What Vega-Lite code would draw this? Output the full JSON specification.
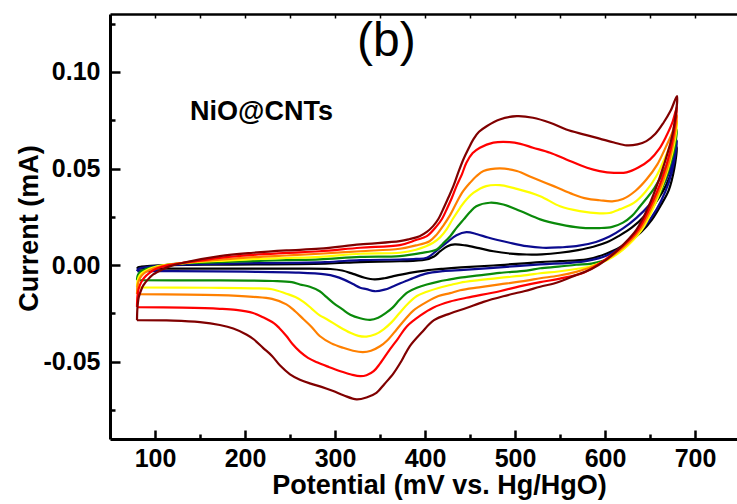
{
"$schema": "https://vega.github.io/schema/vega-lite/v6.json",
"width": 627, "height": 425,
"autosize": "none",
"padding": {"left": 110, "top": 14, "right": 0, "bottom": 65},
"background": "white",
"config": {"view": {"stroke": null}, "axis": {"grid": false, "domainColor": "black", "tickColor": "black", "labelColor": "black", "titleColor": "black", "labelFont": "Liberation Sans", "titleFont": "Liberation Sans", "labelFontWeight": "bold", "titleFontWeight": "bold"}},
"resolve": {"axis": {"x": "independent", "y": "independent"}},
"layer": [
{
"data": {"values": [
{"s":"1","E":80,"I":-0.0018},{"s":"1","E":81,"I":-0.0012},{"s":"1","E":85,"I":-0.0008},{"s":"1","E":95,"I":-0.0004},{"s":"1","E":115,"I":0},{"s":"1","E":180,"I":0.0003},{"s":"1","E":289,"I":0.0008},{"s":"1","E":328,"I":0.0016},{"s":"1","E":372,"I":0.002},{"s":"1","E":400,"I":0.0028},{"s":"1","E":410,"I":0.0045},{"s":"1","E":417,"I":0.0072},{"s":"1","E":425,"I":0.0098},{"s":"1","E":433,"I":0.0107},{"s":"1","E":445,"I":0.0102},{"s":"1","E":460,"I":0.0088},{"s":"1","E":476,"I":0.0072},{"s":"1","E":495,"I":0.006},{"s":"1","E":513,"I":0.0055},{"s":"1","E":530,"I":0.0056},{"s":"1","E":550,"I":0.0064},{"s":"1","E":570,"I":0.0078},{"s":"1","E":587,"I":0.0095},{"s":"1","E":602,"I":0.0118},{"s":"1","E":615,"I":0.015},{"s":"1","E":630,"I":0.0195},{"s":"1","E":645,"I":0.026},{"s":"1","E":658,"I":0.0335},{"s":"1","E":668,"I":0.0415},{"s":"1","E":675,"I":0.05},{"s":"1","E":680,"I":0.061},
{"s":"1","E":677,"I":0.05},{"s":"1","E":671,"I":0.039},{"s":"1","E":662,"I":0.031},{"s":"1","E":652,"I":0.0235},{"s":"1","E":640,"I":0.017},{"s":"1","E":625,"I":0.0115},{"s":"1","E":602,"I":0.006},{"s":"1","E":580,"I":0.003},{"s":"1","E":550,"I":0.0021},{"s":"1","E":528,"I":0.0016},{"s":"1","E":476,"I":-0.0002},{"s":"1","E":440,"I":-0.0012},{"s":"1","E":420,"I":-0.0019},{"s":"1","E":400,"I":-0.0028},{"s":"1","E":383,"I":-0.004},{"s":"1","E":365,"I":-0.0057},{"s":"1","E":355,"I":-0.0068},{"s":"1","E":344,"I":-0.0074},{"s":"1","E":333,"I":-0.0065},{"s":"1","E":320,"I":-0.0045},{"s":"1","E":308,"I":-0.0028},{"s":"1","E":295,"I":-0.002},{"s":"1","E":250,"I":-0.0018},{"s":"1","E":150,"I":-0.0018},{"s":"1","E":80,"I":-0.0018},

{"s":"2","E":80,"I":-0.0031},{"s":"2","E":81,"I":-0.0022},{"s":"2","E":84,"I":-0.0015},{"s":"2","E":90,"I":-0.001},{"s":"2","E":100,"I":-0.0005},{"s":"2","E":115,"I":0},{"s":"2","E":140,"I":0.0004},{"s":"2","E":180,"I":0.0008},{"s":"2","E":289,"I":0.0016},{"s":"2","E":328,"I":0.0026},{"s":"2","E":372,"I":0.0029},{"s":"2","E":390,"I":0.0032},{"s":"2","E":402,"I":0.0038},{"s":"2","E":413,"I":0.0075},{"s":"2","E":424,"I":0.0116},{"s":"2","E":435,"I":0.0155},{"s":"2","E":446,"I":0.0171},{"s":"2","E":458,"I":0.016},{"s":"2","E":470,"I":0.0143},{"s":"2","E":494,"I":0.0116},{"s":"2","E":513,"I":0.0098},{"s":"2","E":531,"I":0.009},{"s":"2","E":550,"I":0.0092},{"s":"2","E":568,"I":0.0098},{"s":"2","E":590,"I":0.012},{"s":"2","E":605,"I":0.0148},{"s":"2","E":620,"I":0.019},{"s":"2","E":635,"I":0.0245},{"s":"2","E":650,"I":0.0315},{"s":"2","E":660,"I":0.038},{"s":"2","E":668,"I":0.0443},{"s":"2","E":675,"I":0.053},{"s":"2","E":680,"I":0.0645},
{"s":"2","E":677,"I":0.054},{"s":"2","E":671,"I":0.043},{"s":"2","E":662,"I":0.033},{"s":"2","E":652,"I":0.025},{"s":"2","E":640,"I":0.018},{"s":"2","E":625,"I":0.0115},{"s":"2","E":602,"I":0.005},{"s":"2","E":580,"I":0.0022},{"s":"2","E":560,"I":0.0012},{"s":"2","E":528,"I":0.0004},{"s":"2","E":476,"I":-0.0014},{"s":"2","E":443,"I":-0.0025},{"s":"2","E":420,"I":-0.0031},{"s":"2","E":400,"I":-0.0045},{"s":"2","E":383,"I":-0.0074},{"s":"2","E":365,"I":-0.0109},{"s":"2","E":355,"I":-0.0127},{"s":"2","E":344,"I":-0.0135},{"s":"2","E":335,"I":-0.0124},{"s":"2","E":328,"I":-0.0117},{"s":"2","E":320,"I":-0.0098},{"s":"2","E":310,"I":-0.0075},{"s":"2","E":300,"I":-0.0058},{"s":"2","E":289,"I":-0.0048},{"s":"2","E":260,"I":-0.0039},{"s":"2","E":200,"I":-0.0034},{"s":"2","E":120,"I":-0.0031},{"s":"2","E":80,"I":-0.0031},

{"s":"3","E":80,"I":-0.0078},{"s":"3","E":80.5,"I":-0.0058},{"s":"3","E":82,"I":-0.0043},{"s":"3","E":85,"I":-0.003},{"s":"3","E":89,"I":-0.0022},{"s":"3","E":95,"I":-0.0013},{"s":"3","E":104,"I":-0.0005},{"s":"3","E":122,"I":0.0007},{"s":"3","E":135,"I":0.001},{"s":"3","E":172,"I":0.0015},{"s":"3","E":209,"I":0.0021},{"s":"3","E":246,"I":0.0026},{"s":"3","E":283,"I":0.003},{"s":"3","E":328,"I":0.0043},{"s":"3","E":372,"I":0.0047},{"s":"3","E":395,"I":0.0062},{"s":"3","E":413,"I":0.0081},{"s":"3","E":420,"I":0.0112},{"s":"3","E":428,"I":0.015},{"s":"3","E":435,"I":0.0193},{"s":"3","E":443,"I":0.0237},{"s":"3","E":450,"I":0.0275},{"s":"3","E":457,"I":0.0305},{"s":"3","E":472,"I":0.0323},{"s":"3","E":487,"I":0.0314},{"s":"3","E":506,"I":0.028},{"s":"3","E":528,"I":0.0237},{"s":"3","E":550,"I":0.0211},{"s":"3","E":572,"I":0.0194},{"s":"3","E":594,"I":0.0192},{"s":"3","E":608,"I":0.0198},{"s":"3","E":620,"I":0.022},{"s":"3","E":630,"I":0.0255},{"s":"3","E":639,"I":0.0305},{"s":"3","E":655,"I":0.04},{"s":"3","E":668,"I":0.0512},{"s":"3","E":675,"I":0.06},{"s":"3","E":680,"I":0.07},
{"s":"3","E":677,"I":0.06},{"s":"3","E":671,"I":0.05},{"s":"3","E":667,"I":0.0443},{"s":"3","E":660,"I":0.036},{"s":"3","E":650,"I":0.027},{"s":"3","E":640,"I":0.0195},{"s":"3","E":625,"I":0.0105},{"s":"3","E":602,"I":0.003},{"s":"3","E":585,"I":0.0008},{"s":"3","E":568,"I":0.0002},{"s":"3","E":548,"I":-0.0008},{"s":"3","E":528,"I":-0.0016},{"s":"3","E":513,"I":-0.0028},{"s":"3","E":483,"I":-0.004},{"s":"3","E":460,"I":-0.0053},{"s":"3","E":439,"I":-0.0065},{"s":"3","E":428,"I":-0.0074},{"s":"3","E":415,"I":-0.0085},{"s":"3","E":402,"I":-0.01},{"s":"3","E":391,"I":-0.0117},{"s":"3","E":381,"I":-0.014},{"s":"3","E":372,"I":-0.0178},{"s":"3","E":364,"I":-0.022},{"s":"3","E":357,"I":-0.0246},{"s":"3","E":348,"I":-0.0272},{"s":"3","E":339,"I":-0.0283},{"s":"3","E":328,"I":-0.0275},{"s":"3","E":317,"I":-0.0257},{"s":"3","E":308,"I":-0.0228},{"s":"3","E":298,"I":-0.0195},{"s":"3","E":290,"I":-0.0163},{"s":"3","E":283,"I":-0.0135},{"s":"3","E":272,"I":-0.0112},{"s":"3","E":261,"I":-0.01},{"s":"3","E":252,"I":-0.0088},{"s":"3","E":231,"I":-0.0082},{"s":"3","E":150,"I":-0.0079},{"s":"3","E":80,"I":-0.0078},

{"s":"4","E":80,"I":-0.0115},{"s":"4","E":80.5,"I":-0.0085},{"s":"4","E":82,"I":-0.006},{"s":"4","E":85,"I":-0.0042},{"s":"4","E":90,"I":-0.0027},{"s":"4","E":98,"I":-0.0012},{"s":"4","E":110,"I":0},{"s":"4","E":135,"I":0.0011},{"s":"4","E":172,"I":0.0022},{"s":"4","E":209,"I":0.0031},{"s":"4","E":246,"I":0.0037},{"s":"4","E":283,"I":0.0043},{"s":"4","E":328,"I":0.0059},{"s":"4","E":372,"I":0.0064},{"s":"4","E":390,"I":0.008},{"s":"4","E":409,"I":0.0116},{"s":"4","E":417,"I":0.0145},{"s":"4","E":424,"I":0.0185},{"s":"4","E":431,"I":0.024},{"s":"4","E":439,"I":0.0297},{"s":"4","E":446,"I":0.034},{"s":"4","E":454,"I":0.0375},{"s":"4","E":468,"I":0.0409},{"s":"4","E":483,"I":0.0414},{"s":"4","E":502,"I":0.0395},{"s":"4","E":528,"I":0.0357},{"s":"4","E":550,"I":0.0305},{"s":"4","E":572,"I":0.028},{"s":"4","E":594,"I":0.0268},{"s":"4","E":605,"I":0.027},{"s":"4","E":617,"I":0.029},{"s":"4","E":632,"I":0.0322},{"s":"4","E":645,"I":0.038},{"s":"4","E":657,"I":0.046},{"s":"4","E":668,"I":0.057},{"s":"4","E":675,"I":0.065},{"s":"4","E":680,"I":0.0745},
{"s":"4","E":677,"I":0.063},{"s":"4","E":672,"I":0.053},{"s":"4","E":666,"I":0.0443},{"s":"4","E":654,"I":0.03},{"s":"4","E":641,"I":0.0184},{"s":"4","E":620,"I":0.008},{"s":"4","E":602,"I":0.0025},{"s":"4","E":585,"I":-0.0005},{"s":"4","E":568,"I":-0.002},{"s":"4","E":548,"I":-0.0033},{"s":"4","E":528,"I":-0.0042},{"s":"4","E":513,"I":-0.0052},{"s":"4","E":483,"I":-0.0066},{"s":"4","E":460,"I":-0.0078},{"s":"4","E":439,"I":-0.0091},{"s":"4","E":428,"I":-0.0103},{"s":"4","E":415,"I":-0.0118},{"s":"4","E":402,"I":-0.0138},{"s":"4","E":391,"I":-0.016},{"s":"4","E":381,"I":-0.02},{"s":"4","E":372,"I":-0.0246},{"s":"4","E":363,"I":-0.0295},{"s":"4","E":354,"I":-0.0332},{"s":"4","E":345,"I":-0.0358},{"s":"4","E":335,"I":-0.037},{"s":"4","E":326,"I":-0.0366},{"s":"4","E":317,"I":-0.035},{"s":"4","E":305,"I":-0.032},{"s":"4","E":291,"I":-0.028},{"s":"4","E":283,"I":-0.026},{"s":"4","E":274,"I":-0.0225},{"s":"4","E":265,"I":-0.019},{"s":"4","E":256,"I":-0.0165},{"s":"4","E":246,"I":-0.0148},{"s":"4","E":230,"I":-0.0125},{"s":"4","E":209,"I":-0.012},{"s":"4","E":160,"I":-0.0117},{"s":"4","E":80,"I":-0.0115},

{"s":"5","E":80,"I":-0.015},{"s":"5","E":80.5,"I":-0.011},{"s":"5","E":82,"I":-0.008},{"s":"5","E":85,"I":-0.0055},{"s":"5","E":90,"I":-0.0035},{"s":"5","E":98,"I":-0.0017},{"s":"5","E":110,"I":-0.0002},{"s":"5","E":135,"I":0.0013},{"s":"5","E":172,"I":0.0028},{"s":"5","E":209,"I":0.0041},{"s":"5","E":246,"I":0.005},{"s":"5","E":283,"I":0.0059},{"s":"5","E":328,"I":0.0072},{"s":"5","E":372,"I":0.0085},{"s":"5","E":390,"I":0.0102},{"s":"5","E":405,"I":0.0124},{"s":"5","E":413,"I":0.0158},{"s":"5","E":420,"I":0.0202},{"s":"5","E":428,"I":0.026},{"s":"5","E":435,"I":0.0323},{"s":"5","E":442,"I":0.038},{"s":"5","E":450,"I":0.0426},{"s":"5","E":457,"I":0.046},{"s":"5","E":465,"I":0.0487},{"s":"5","E":483,"I":0.0501},{"s":"5","E":502,"I":0.0487},{"s":"5","E":520,"I":0.0452},{"s":"5","E":543,"I":0.0409},{"s":"5","E":565,"I":0.0366},{"s":"5","E":580,"I":0.0344},{"s":"5","E":594,"I":0.0336},{"s":"5","E":608,"I":0.033},{"s":"5","E":620,"I":0.0342},{"s":"5","E":634,"I":0.0385},{"s":"5","E":646,"I":0.0443},{"s":"5","E":658,"I":0.052},{"s":"5","E":668,"I":0.0616},{"s":"5","E":675,"I":0.069},{"s":"5","E":680,"I":0.0775},
{"s":"5","E":677,"I":0.066},{"s":"5","E":672,"I":0.055},{"s":"5","E":665,"I":0.0443},{"s":"5","E":652,"I":0.03},{"s":"5","E":639,"I":0.0184},{"s":"5","E":620,"I":0.009},{"s":"5","E":602,"I":0.003},{"s":"5","E":585,"I":-0.001},{"s":"5","E":568,"I":-0.0035},{"s":"5","E":548,"I":-0.0055},{"s":"5","E":528,"I":-0.0068},{"s":"5","E":513,"I":-0.008},{"s":"5","E":483,"I":-0.01},{"s":"5","E":460,"I":-0.0115},{"s":"5","E":439,"I":-0.013},{"s":"5","E":428,"I":-0.0145},{"s":"5","E":415,"I":-0.016},{"s":"5","E":402,"I":-0.019},{"s":"5","E":387,"I":-0.0235},{"s":"5","E":378,"I":-0.028},{"s":"5","E":368.5,"I":-0.0333},{"s":"5","E":358,"I":-0.039},{"s":"5","E":350,"I":-0.042},{"s":"5","E":340,"I":-0.0443},{"s":"5","E":331,"I":-0.045},{"s":"5","E":320,"I":-0.0443},{"s":"5","E":309,"I":-0.0428},{"s":"5","E":296,"I":-0.0405},{"s":"5","E":283,"I":-0.0367},{"s":"5","E":274,"I":-0.032},{"s":"5","E":265,"I":-0.028},{"s":"5","E":256,"I":-0.024},{"s":"5","E":246,"I":-0.0203},{"s":"5","E":230,"I":-0.0175},{"s":"5","E":209,"I":-0.0164},{"s":"5","E":170,"I":-0.0155},{"s":"5","E":80,"I":-0.015},

{"s":"6","E":80,"I":-0.0217},{"s":"6","E":80.5,"I":-0.016},{"s":"6","E":82,"I":-0.012},{"s":"6","E":84.5,"I":-0.009},{"s":"6","E":88,"I":-0.0065},{"s":"6","E":94,"I":-0.004},{"s":"6","E":102,"I":-0.0018},{"s":"6","E":115,"I":0},{"s":"6","E":135,"I":0.0014},{"s":"6","E":172,"I":0.0038},{"s":"6","E":209,"I":0.0053},{"s":"6","E":246,"I":0.0063},{"s":"6","E":283,"I":0.0072},{"s":"6","E":328,"I":0.009},{"s":"6","E":372,"I":0.0104},{"s":"6","E":390,"I":0.013},{"s":"6","E":402,"I":0.015},{"s":"6","E":413,"I":0.0202},{"s":"6","E":419,"I":0.024},{"s":"6","E":424,"I":0.0288},{"s":"6","E":430,"I":0.035},{"s":"6","E":435,"I":0.0409},{"s":"6","E":441,"I":0.047},{"s":"6","E":446,"I":0.053},{"s":"6","E":453,"I":0.058},{"s":"6","E":461,"I":0.0608},{"s":"6","E":476,"I":0.0634},{"s":"6","E":494,"I":0.0637},{"s":"6","E":506,"I":0.0628},{"s":"6","E":520,"I":0.0608},{"s":"6","E":539,"I":0.0582},{"s":"6","E":557,"I":0.0547},{"s":"6","E":580,"I":0.0504},{"s":"6","E":594,"I":0.0487},{"s":"6","E":610,"I":0.0478},{"s":"6","E":624,"I":0.048},{"s":"6","E":637,"I":0.0505},{"s":"6","E":650,"I":0.0546},{"s":"6","E":660,"I":0.06},{"s":"6","E":668,"I":0.0667},{"s":"6","E":675,"I":0.074},{"s":"6","E":680,"I":0.082},
{"s":"6","E":677,"I":0.07},{"s":"6","E":673,"I":0.06},{"s":"6","E":663,"I":0.0443},{"s":"6","E":650,"I":0.03},{"s":"6","E":637,"I":0.0184},{"s":"6","E":620,"I":0.01},{"s":"6","E":602,"I":0.0035},{"s":"6","E":578,"I":-0.0035},{"s":"6","E":550,"I":-0.007},{"s":"6","E":528,"I":-0.0088},{"s":"6","E":505,"I":-0.011},{"s":"6","E":483,"I":-0.0135},{"s":"6","E":446,"I":-0.0169},{"s":"6","E":428,"I":-0.0188},{"s":"6","E":409,"I":-0.022},{"s":"6","E":395,"I":-0.026},{"s":"6","E":380,"I":-0.0316},{"s":"6","E":370,"I":-0.038},{"s":"6","E":361,"I":-0.0436},{"s":"6","E":350,"I":-0.051},{"s":"6","E":343,"I":-0.0549},{"s":"6","E":335,"I":-0.057},{"s":"6","E":328,"I":-0.0575},{"s":"6","E":318,"I":-0.0566},{"s":"6","E":306,"I":-0.0549},{"s":"6","E":293,"I":-0.0527},{"s":"6","E":280,"I":-0.0503},{"s":"6","E":270,"I":-0.048},{"s":"6","E":261,"I":-0.0448},{"s":"6","E":253,"I":-0.041},{"s":"6","E":246,"I":-0.0367},{"s":"6","E":238,"I":-0.0325},{"s":"6","E":232,"I":-0.03},{"s":"6","E":220,"I":-0.027},{"s":"6","E":209,"I":-0.0248},{"s":"6","E":190,"I":-0.0232},{"s":"6","E":172,"I":-0.0226},{"s":"6","E":130,"I":-0.022},{"s":"6","E":80,"I":-0.0217},

{"s":"7","E":80,"I":-0.0285},{"s":"7","E":80.5,"I":-0.022},{"s":"7","E":82,"I":-0.0165},{"s":"7","E":84.5,"I":-0.013},{"s":"7","E":87,"I":-0.0105},{"s":"7","E":92,"I":-0.0075},{"s":"7","E":98,"I":-0.0048},{"s":"7","E":108,"I":-0.0022},{"s":"7","E":117,"I":-0.0005},{"s":"7","E":135,"I":0.0016},{"s":"7","E":172,"I":0.0047},{"s":"7","E":209,"I":0.0064},{"s":"7","E":246,"I":0.0076},{"s":"7","E":283,"I":0.0085},{"s":"7","E":328,"I":0.0107},{"s":"7","E":372,"I":0.0124},{"s":"7","E":383,"I":0.0135},{"s":"7","E":394,"I":0.015},{"s":"7","E":402,"I":0.0172},{"s":"7","E":409,"I":0.0202},{"s":"7","E":415,"I":0.024},{"s":"7","E":420,"I":0.0288},{"s":"7","E":426,"I":0.035},{"s":"7","E":431.5,"I":0.0409},{"s":"7","E":437,"I":0.048},{"s":"7","E":442.6,"I":0.0547},{"s":"7","E":448,"I":0.06},{"s":"7","E":453.7,"I":0.0651},{"s":"7","E":460,"I":0.069},{"s":"7","E":468.5,"I":0.0719},{"s":"7","E":483,"I":0.0754},{"s":"7","E":502,"I":0.0771},{"s":"7","E":520,"I":0.0763},{"s":"7","E":539,"I":0.0737},{"s":"7","E":557,"I":0.0702},{"s":"7","E":576,"I":0.0677},{"s":"7","E":594,"I":0.0655},{"s":"7","E":610,"I":0.0635},{"s":"7","E":624,"I":0.062},{"s":"7","E":636,"I":0.0625},{"s":"7","E":646,"I":0.0642},{"s":"7","E":656,"I":0.068},{"s":"7","E":665,"I":0.0737},{"s":"7","E":673,"I":0.08},{"s":"7","E":680,"I":0.0875},
{"s":"7","E":676,"I":0.07},{"s":"7","E":672,"I":0.062},{"s":"7","E":660,"I":0.0443},{"s":"7","E":648,"I":0.03},{"s":"7","E":635,"I":0.0184},{"s":"7","E":620,"I":0.0105},{"s":"7","E":602,"I":0.003},{"s":"7","E":585,"I":-0.002},{"s":"7","E":565,"I":-0.0057},{"s":"7","E":546,"I":-0.0091},{"s":"7","E":528,"I":-0.0112},{"s":"7","E":510,"I":-0.0135},{"s":"7","E":487,"I":-0.0161},{"s":"7","E":465,"I":-0.019},{"s":"7","E":446,"I":-0.0222},{"s":"7","E":428,"I":-0.025},{"s":"7","E":410,"I":-0.0285},{"s":"7","E":396,"I":-0.035},{"s":"7","E":383,"I":-0.042},{"s":"7","E":374,"I":-0.0495},{"s":"7","E":365,"I":-0.056},{"s":"7","E":355,"I":-0.0615},{"s":"7","E":346,"I":-0.0661},{"s":"7","E":335,"I":-0.0685},{"s":"7","E":324,"I":-0.0695},{"s":"7","E":310,"I":-0.0675},{"s":"7","E":298,"I":-0.0652},{"s":"7","E":285,"I":-0.063},{"s":"7","E":272,"I":-0.0612},{"s":"7","E":261,"I":-0.0593},{"s":"7","E":250,"I":-0.0565},{"s":"7","E":239,"I":-0.052},{"s":"7","E":230,"I":-0.047},{"s":"7","E":220,"I":-0.0428},{"s":"7","E":210,"I":-0.0385},{"s":"7","E":202,"I":-0.036},{"s":"7","E":187,"I":-0.0328},{"s":"7","E":172,"I":-0.031},{"s":"7","E":150,"I":-0.0295},{"s":"7","E":120,"I":-0.0287},{"s":"7","E":80,"I":-0.0285}
]},
"mark": {"type": "line", "strokeWidth": 2.2, "clip": true, "interpolate": "catmull-rom"},
"encoding": {
"x": {"field": "E", "type": "quantitative", "scale": {"domain": [50, 746.667], "nice": false, "zero": false},
  "axis": {"orient": "bottom", "values": [100,150,200,250,300,350,400,450,500,550,600,650,700], "labelExpr": "datum.value % 100 === 0 ? datum.label : ''", "format": "d", "tickSize": {"condition": {"test": "datum.value % 100 === 0", "value": -9}, "value": -5}, "tickWidth": 2.5, "domainWidth": 3, "labelFontSize": 25, "labelBaseline": "alphabetic", "labelPadding": 36, "labelFlush": false, "labelOverlap": false, "title": "Potential (mV vs. Hg/HgO)", "titleFontSize": 27, "titleX": 329, "titleY": 54, "titleBaseline": "alphabetic", "titleAlign": "center"}},
"y": {"field": "I", "type": "quantitative", "scale": {"domain": [-0.09, 0.13], "nice": false, "zero": false},
  "axis": {"orient": "left", "values": [-0.075,-0.05,-0.025,0,0.025,0.05,0.075,0.1,0.125], "labelExpr": "abs(datum.value*20 - round(datum.value*20)) < 0.001 ? replace(format(datum.value, '.2f'), '\u2212', '-') : ''", "tickSize": {"condition": {"test": "abs(datum.value*20 - round(datum.value*20)) < 0.001", "value": -10}, "value": -5}, "tickWidth": 2.5, "domainWidth": 3, "labelFontSize": 25, "labelPadding": 20, "labelFlush": false, "labelOverlap": false, "labelBaseline": "middle", "title": "Current (mA)", "titleFontSize": 27, "titleAngle": -90, "titleX": -73, "titleY": 214, "titleBaseline": "alphabetic", "titleAlign": "center"}},
"color": {"field": "s", "type": "nominal", "scale": {"domain": ["1","2","3","4","5","6","7"], "range": ["#000000","#0b0b8f","#0a8a0a","#ffff00","#ff8000","#ff0000","#800000"]}, "legend": null},
"order": {"value": null}
}
},
{
"data": {"values": [{"label": "(b)"}]},
"mark": {"type": "text", "font": "Liberation Sans", "fontSize": 48, "align": "center", "baseline": "alphabetic", "color": "black"},
"encoding": {
"x": {"datum": 357, "type": "quantitative", "scale": {"domain": [50, 746.667], "nice": false, "zero": false},
  "axis": {"orient": "top", "values": [100,150,200,250,300,350,400,450,500,550,600,650,700], "labels": false, "tickSize": -4, "tickWidth": 1.5, "domainWidth": 2.5, "title": null}},
"y": {"datum": 0.1085, "type": "quantitative", "scale": {"domain": [-0.09, 0.13], "nice": false, "zero": false}, "axis": null},
"text": {"field": "label", "type": "nominal"}
}
},
{
"data": {"values": [{"label": "NiO@CNTs"}]},
"mark": {"type": "text", "font": "Liberation Sans", "fontSize": 27, "fontWeight": "bold", "align": "left", "baseline": "alphabetic", "color": "black"},
"encoding": {
"x": {"datum": 139, "type": "quantitative", "scale": {"domain": [50, 746.667], "nice": false, "zero": false}, "axis": null},
"y": {"datum": 0.0752, "type": "quantitative", "scale": {"domain": [-0.09, 0.13], "nice": false, "zero": false}, "axis": null},
"text": {"field": "label", "type": "nominal"}
}
}
]
}
